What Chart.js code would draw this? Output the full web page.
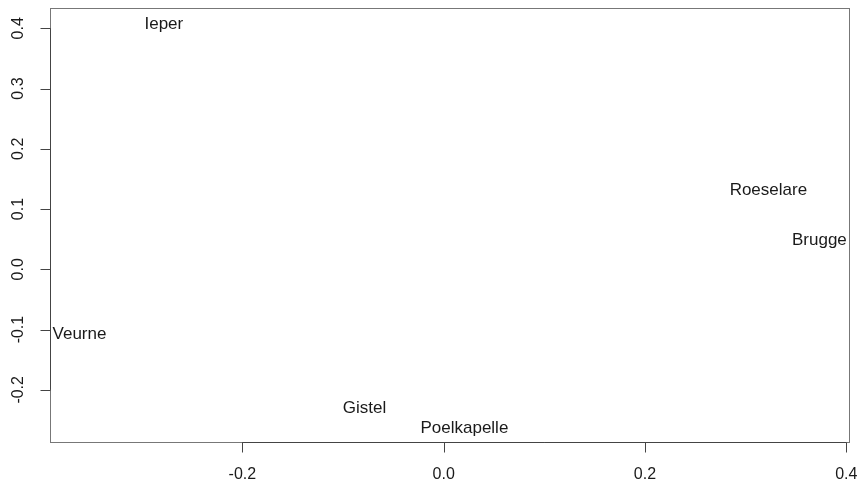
<!DOCTYPE html>
<html>
<head>
<meta charset="utf-8">
<script src="https://cdn.jsdelivr.net/npm/chart.js@4"></script>
<style>
  html, body { margin: 0; padding: 0; background: #fff; }
  #wrap { width: 857px; height: 487px; }
</style>
</head>
<body>
<div id="wrap"><canvas id="c" width="857" height="487"></canvas></div>
<script>
// MDS-style coordinates, one label per town
const plaatsen = ['Ieper', 'Roeselare', 'Brugge', 'Veurne', 'Gistel', 'Poelkapelle'];
const xWaarden = [-0.278, 0.3226, 0.3733, -0.3618, -0.0786, 0.0206];
const yWaarden = [0.409, 0.133, 0.050, -0.107, -0.2285, -0.2617];

const xTicks = [-0.2, 0.0, 0.2, 0.4];
const yTicks = [-0.2, -0.1, 0.0, 0.1, 0.2, 0.3, 0.4];

const FONT = '"Liberation Sans", Arial, Helvetica, sans-serif';

const punten = plaatsen.map((p, i) => ({ x: xWaarden[i], y: yWaarden[i], naam: p }));

// draws the box, the R-style axes and the text labels
const rPlot = {
  id: 'rPlot',
  afterDatasetsDraw(chart) {
    const ctx = chart.ctx;
    const a = chart.chartArea;
    const xs = chart.scales.x;
    const ys = chart.scales.y;
    ctx.save();

    // box
    ctx.strokeStyle = '#777';
    ctx.lineWidth = 1;
    ctx.strokeRect(Math.round(a.left) + 0.5, Math.round(a.top) + 0.5,
      Math.round(a.right - a.left), Math.round(a.bottom - a.top));

    ctx.strokeStyle = '#444';
    ctx.fillStyle = '#1a1a1a';

    // x axis
    const yb = Math.round(a.bottom) + 0.5;
    ctx.beginPath();
    ctx.moveTo(xs.getPixelForValue(xTicks[0]), yb);
    ctx.lineTo(xs.getPixelForValue(xTicks[xTicks.length - 1]), yb);
    xTicks.forEach(v => {
      const px = Math.round(xs.getPixelForValue(v)) + 0.5;
      ctx.moveTo(px, yb);
      ctx.lineTo(px, yb + 10);
    });
    ctx.stroke();
    ctx.font = '16px ' + FONT;
    ctx.textAlign = 'center';
    ctx.textBaseline = 'middle';
    xTicks.forEach(v => {
      ctx.fillText(v.toFixed(1), xs.getPixelForValue(v), a.bottom + 33);
    });

    // y axis
    const xl = Math.round(a.left) + 0.5;
    ctx.beginPath();
    ctx.moveTo(xl, ys.getPixelForValue(yTicks[0]));
    ctx.lineTo(xl, ys.getPixelForValue(yTicks[yTicks.length - 1]));
    yTicks.forEach(v => {
      const py = Math.round(ys.getPixelForValue(v)) + 0.5;
      ctx.moveTo(xl, py);
      ctx.lineTo(xl - 10, py);
    });
    ctx.stroke();
    yTicks.forEach(v => {
      ctx.save();
      ctx.translate(a.left - 31, ys.getPixelForValue(v));
      ctx.rotate(-Math.PI / 2);
      ctx.fillText(v.toFixed(1), 0, 0);
      ctx.restore();
    });

    // town labels
    ctx.font = '17px ' + FONT;
    const meta = chart.getDatasetMeta(0);
    meta.data.forEach((el, i) => {
      ctx.fillText(punten[i].naam, el.x, el.y + 1);
    });

    ctx.restore();
  }
};

new Chart(document.getElementById('c'), {
  type: 'scatter',
  data: {
    datasets: [{
      data: punten,
      pointRadius: 0,
      pointHoverRadius: 0
    }]
  },
  options: {
    responsive: false,
    animation: false,
    events: [],
    layout: { padding: { top: 8, right: 8, left: 0, bottom: 0 } },
    plugins: { legend: { display: false }, tooltip: { enabled: false } },
    scales: {
      x: {
        type: 'linear',
        min: -0.3911,
        max: 0.4027,
        grid: { display: false },
        border: { display: false },
        ticks: { display: false },
        afterFit(s) { s.height = 45; }
      },
      y: {
        type: 'linear',
        min: -0.2866,
        max: 0.4337,
        grid: { display: false },
        border: { display: false },
        ticks: { display: false },
        afterFit(s) { s.width = 50; }
      }
    }
  },
  plugins: [rPlot]
});
</script>
</body>
</html>
